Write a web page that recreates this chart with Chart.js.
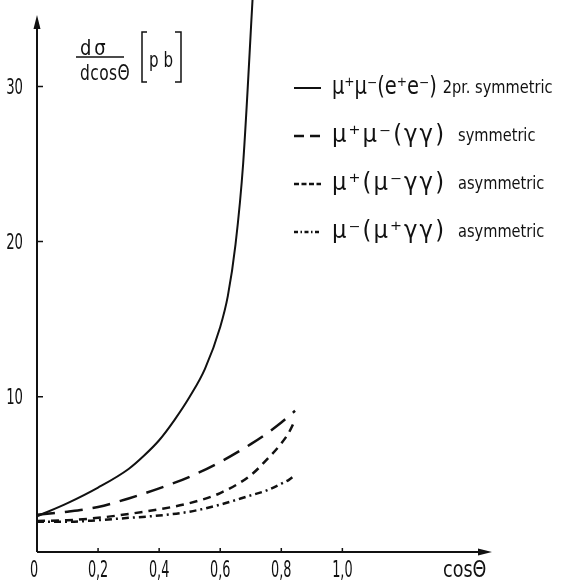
<!DOCTYPE html>
<html>
<head>
<meta charset="utf-8">
<script src="https://cdn.jsdelivr.net/npm/chart.js@4/dist/chart.umd.min.js"></script>
<style>
  html, body { margin: 0; padding: 0; background: #fff; }
  canvas { display: block; }
</style>
</head>
<body>
<canvas id="chart" width="573" height="584"></canvas>
<script>
// values
const solidX = [0, 0.1, 0.2, 0.3, 0.35, 0.4, 0.45, 0.5, 0.55, 0.6, 0.625, 0.65, 0.675, 0.707];
const solidY = [2.3, 3.15, 4.15, 5.35, 6.2, 7.2, 8.5, 10.0, 11.8, 14.5, 16.5, 19.8, 25.0, 36.0];

const lowX = [0, 0.1, 0.2, 0.3, 0.4, 0.5, 0.6, 0.7, 0.75, 0.8, 0.825, 0.845];
const longDashY = [2.4, 2.6, 2.9, 3.45, 4.1, 4.85, 5.8, 6.95, 7.6, 8.35, 8.75, 9.1];
const shortDashY = [2.0, 2.05, 2.2, 2.45, 2.75, 3.15, 3.8, 4.95, 5.9, 7.0, 7.7, 8.5];
const dashDotY = [1.95, 1.95, 2.05, 2.2, 2.35, 2.6, 3.05, 3.65, 3.95, 4.4, 4.65, 4.95];

const xTicks = [0, 0.2, 0.4, 0.6, 0.8, 1.0];
const xTickLabels = ['0', '0,2', '0,4', '0,6', '0,8', '1,0'];
const yTicks = [10, 20, 30];

const legendFormula = ['μ⁺μ⁻(e⁺e⁻)', 'μ⁺μ⁻(γγ)', 'μ⁺(μ⁻γγ)', 'μ⁻(μ⁺γγ)'];
const legendNote = ['2pr. symmetric', 'symmetric', 'asymmetric', 'asymmetric'];

const INK = '#111';
const FONT = '"DejaVu Sans Condensed", "DejaVu Sans", sans-serif';

function pts(xs, ys) {
  return xs.map((x, i) => ({ x: x, y: ys[i] }));
}

const datasets = [
  { data: pts(solidX, solidY), borderWidth: 2, borderDash: [], legendDash: [], clip: false },
  { data: pts(lowX, longDashY), borderWidth: 2.5, borderDash: [18, 10], legendDash: [10, 6] },
  { data: pts(lowX, shortDashY), borderWidth: 2.5, borderDash: [8, 6], legendDash: [5, 2.5] },
  { data: pts(lowX, dashDotY), borderWidth: 2.5, borderDash: [7, 4, 2, 4], legendDash: [4, 2.5, 1.5, 2.5] }
].map(d => Object.assign({
  borderColor: INK,
  pointRadius: 0,
  fill: false,
  cubicInterpolationMode: 'monotone'
}, d));

// narrow lettering like the original, squeezed horizontally; returns drawn width
function txt(ctx, s, x, y, size, align, sx, spacing) {
  ctx.save();
  ctx.font = size + 'px ' + FONT;
  ctx.textAlign = align;
  ctx.letterSpacing = (spacing || 0) + 'px';
  const w = ctx.measureText(s).width * sx;
  ctx.translate(x, y);
  ctx.scale(sx, 1);
  ctx.fillText(s, 0, 0);
  ctx.restore();
  return w;
}

const decor = {
  id: 'decor',
  afterDraw(chart) {
    const ctx = chart.ctx;
    const xs = chart.scales.x, ys = chart.scales.y;
    const x0 = xs.getPixelForValue(0), y0 = ys.getPixelForValue(0);
    const top = chart.chartArea.top, right = chart.chartArea.right;
    ctx.save();
    ctx.strokeStyle = INK;
    ctx.fillStyle = INK;

    // axes with arrow heads
    ctx.lineWidth = 2;
    ctx.beginPath();
    ctx.moveTo(x0, y0); ctx.lineTo(x0, top + 8);
    ctx.moveTo(x0, y0); ctx.lineTo(right - 8, y0);
    ctx.stroke();
    ctx.beginPath();
    ctx.moveTo(x0, top); ctx.lineTo(x0 - 3.5, top + 14); ctx.lineTo(x0 + 3.5, top + 14); ctx.closePath();
    ctx.moveTo(right, y0); ctx.lineTo(right - 14, y0 - 3.5); ctx.lineTo(right - 14, y0 + 3.5); ctx.closePath();
    ctx.fill();

    // tick marks and labels
    ctx.lineWidth = 1.5;
    ctx.beginPath();
    yTicks.forEach(v => { const p = ys.getPixelForValue(v); ctx.moveTo(x0, p); ctx.lineTo(x0 + 6, p); });
    xTicks.slice(1).forEach(v => { const p = xs.getPixelForValue(v); ctx.moveTo(p, y0); ctx.lineTo(p, y0 - 4); });
    ctx.stroke();
    ctx.textBaseline = 'alphabetic';
    yTicks.forEach(v => txt(ctx, String(v), 23, ys.getPixelForValue(v) + 7.5, 21, 'right', 0.7));
    xTicks.forEach((v, i) => txt(ctx, xTickLabels[i], xs.getPixelForValue(v) - (i === 0 ? 3 : 0), 577, 23, 'center', 0.62));

    // x title
    txt(ctx, 'cosΘ', 443, 577, 23, 'left', 0.85);

    // y title: dσ / dcosΘ [pb]
    txt(ctx, 'dσ', 80, 55, 21, 'left', 0.95, 3);
    txt(ctx, 'dcosΘ', 80, 80, 21, 'left', 0.82, 0.5);
    ctx.lineWidth = 1.5;
    ctx.beginPath();
    ctx.moveTo(76, 57); ctx.lineTo(124, 57);
    ctx.moveTo(147, 32); ctx.lineTo(142, 32); ctx.lineTo(142, 82); ctx.lineTo(147, 82);
    ctx.moveTo(175, 32); ctx.lineTo(181, 32); ctx.lineTo(181, 82); ctx.lineTo(175, 82);
    ctx.stroke();
    txt(ctx, 'p b', 149, 67, 21, 'left', 0.8);

    // legend
    chart.data.datasets.forEach((ds, i) => {
      const y = 88 + i * 48;
      ctx.lineWidth = ds.borderWidth;
      ctx.setLineDash(ds.legendDash);
      ctx.beginPath();
      ctx.moveTo(294, y); ctx.lineTo(321, y);
      ctx.stroke();
      ctx.setLineDash([]);
      const w = txt(ctx, legendFormula[i], 332, y + 6, 24, 'left', i === 0 ? 0.9 : 1.05, i === 0 ? 0 : 2);
      txt(ctx, legendNote[i], 332 + w + (i === 0 ? 6 : 12), y + 5, 18, 'left', 0.9);
    });
    ctx.restore();
  }
};

new Chart(document.getElementById('chart'), {
  type: 'line',
  data: { datasets: datasets },
  options: {
    responsive: false,
    animation: false,
    devicePixelRatio: 1,
    layout: { padding: { top: 15, right: 81, left: 0, bottom: 0 } },
    plugins: { legend: { display: false }, tooltip: { enabled: false } },
    scales: {
      x: {
        type: 'linear',
        min: 0,
        max: 1.49,
        grid: { display: false, drawTicks: false },
        border: { display: false },
        ticks: { display: false },
        afterBuildTicks: s => { s.ticks = xTicks.map(v => ({ value: v })); },
        afterFit: s => { s.height = 32; }
      },
      y: {
        type: 'linear',
        min: 0,
        max: 34.6,
        grid: { display: false, drawTicks: false },
        border: { display: false },
        ticks: { display: false },
        afterBuildTicks: s => { s.ticks = yTicks.map(v => ({ value: v })); },
        afterFit: s => { s.width = 37; }
      }
    }
  },
  plugins: [decor]
});
</script>
</body>
</html>
